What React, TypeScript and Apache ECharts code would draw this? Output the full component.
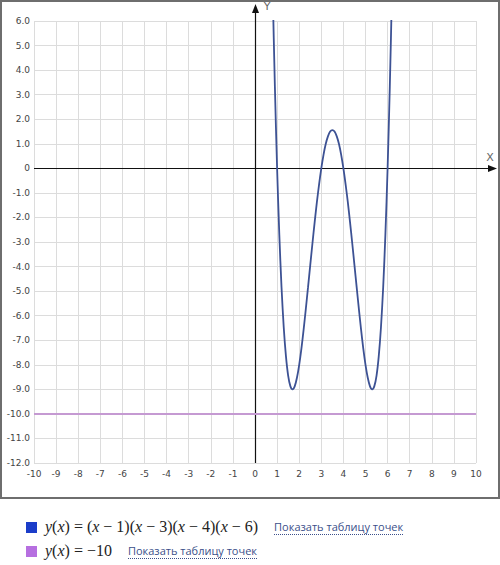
import React, { useEffect, useRef } from "react";
import * as echarts from "echarts";

const xTicksMin = -10;
const xTicksMax = 10;
const yTicksMin = -12;
const yTicksMax = 6;

// y(x) = (x-1)(x-3)(x-4)(x-6), sampled values
const curveX = [0.7, 0.8, 0.9, 1.0, 1.1, 1.2, 1.3, 1.4, 1.5, 1.6, 1.7, 1.8, 1.9, 2.0, 2.1, 2.2, 2.3, 2.4, 2.5, 2.6, 2.7, 2.8, 2.9, 3.0, 3.1, 3.2, 3.3, 3.4, 3.5, 3.6, 3.7, 3.8, 3.9, 4.0, 4.1, 4.2, 4.3, 4.4, 4.5, 4.6, 4.7, 4.8, 4.9, 5.0, 5.1, 5.2, 5.3, 5.4, 5.5, 5.6, 5.7, 5.8, 5.9, 6.0, 6.1, 6.2, 6.3];
const curveY = [12.07, 7.32, 3.32, 0, -2.70, -4.84, -6.47, -7.65, -8.44, -8.87, -9.0, -8.87, -8.52, -8.0, -7.34, -6.57, -5.72, -4.84, -3.94, -3.05, -2.19, -1.38, -0.65, 0, 0.55, 0.99, 1.30, 1.50, 1.56, 1.50, 1.30, 0.99, 0.55, 0, -0.65, -1.38, -2.19, -3.05, -3.94, -4.84, -5.72, -6.57, -7.34, -8.0, -8.52, -8.87, -9.0, -8.87, -8.44, -7.65, -6.47, -4.84, -2.70, 0, 3.32, 7.32, 12.07];

// y(x) = -10
const lineX = [-10, 10];
const lineY = [-10, -10];

const legendFormulas = ["(x − 1)(x − 3)(x − 4)(x − 6)", "−10"];
const legendColors = ["#1b3dc9", "#b66fe0"];
const linkText = "Показать таблицу точек";

export default function App() {
  const ref = useRef<HTMLDivElement>(null);
  useEffect(() => {
    document.body.style.margin = "0";
    const chart = echarts.init(ref.current!, null, { renderer: "svg" });
    const curveData = curveX.map((x, i) => [x, curveY[i]]);
    const lineData = lineX.map((x, i) => [x, lineY[i]]);
    chart.setOption({
      animation: false,
      backgroundColor: "#fff",
      grid: { left: 34, right: 24, top: 21, bottom: 102, containLabel: false },
      xAxis: {
        type: "value",
        min: xTicksMin,
        max: xTicksMax,
        interval: 1,
        axisLine: { show: false },
        axisTick: { show: false },
        axisLabel: { color: "#444", fontSize: 9, fontFamily: "DejaVu Sans", margin: 6 },
        splitLine: { show: true, lineStyle: { color: "#dcdcdc", width: 1 } },
      },
      yAxis: {
        type: "value",
        min: yTicksMin,
        max: yTicksMax,
        interval: 1,
        axisLine: { show: false },
        axisTick: { show: false },
        axisLabel: {
          color: "#444",
          fontSize: 9,
          fontFamily: "DejaVu Sans",
          margin: 4,
          formatter: (v: number) => (v === 0 ? "0" : v.toFixed(1)),
        },
        splitLine: { show: true, lineStyle: { color: "#dcdcdc", width: 1 } },
      },
      series: [
        {
          type: "line",
          data: lineData,
          showSymbol: false,
          lineStyle: { color: "#c59ad2", width: 2 },
          z: 3,
        },
        {
          type: "line",
          data: curveData,
          showSymbol: false,
          smooth: 0.3,
          clip: true,
          lineStyle: { color: "#3d5294", width: 1.8 },
          z: 4,
        },
      ],
    });

    const o = chart.convertToPixel({ gridIndex: 0 }, [0, 0]) as number[];
    const xl = chart.convertToPixel({ gridIndex: 0 }, [xTicksMin, yTicksMin]) as number[];
    const ox = Math.round(o[0]) + 0.5;
    const oy = Math.round(o[1]) + 0.5;
    const axisColor = "#111";

    chart.setOption({
      graphic: [
        {
          type: "rect",
          shape: { x: 1, y: 1, width: 498, height: 497 },
          style: { fill: "none", stroke: "#6e6e6e", lineWidth: 2 },
          z: 1,
        },
        {
          type: "line",
          shape: { x1: xl[0], y1: oy, x2: 491, y2: oy },
          style: { stroke: axisColor, lineWidth: 1.2 },
          z: 2,
        },
        {
          type: "polygon",
          shape: { points: [[497, oy], [488, oy - 3.5], [488, oy + 3.5]] },
          style: { fill: axisColor },
          z: 2,
        },
        {
          type: "line",
          shape: { x1: ox, y1: xl[1], x2: ox, y2: 10 },
          style: { stroke: axisColor, lineWidth: 1.2 },
          z: 2,
        },
        {
          type: "polygon",
          shape: { points: [[ox, 4], [ox - 3.5, 13], [ox + 3.5, 13]] },
          style: { fill: axisColor },
          z: 2,
        },
        {
          type: "text",
          x: 490,
          y: 157,
          style: { text: "X", fill: "#666", font: "11px 'DejaVu Sans'", align: "center", verticalAlign: "middle" },
        },
        {
          type: "text",
          x: 267,
          y: 6,
          style: { text: "Y", fill: "#666", font: "11px 'DejaVu Sans'", align: "center", verticalAlign: "middle" },
        },
      ],
    });
    return () => chart.dispose();
  }, []);

  return (
    <div style={{ width: 500, height: 565, position: "relative", background: "#fff" }}>
      <div ref={ref} style={{ width: 500, height: 565 }} />
      <div style={{ position: "absolute", left: 0, top: 0, width: 500, height: 565, pointerEvents: "none" }}>
        {legendFormulas.map((f, i) => (
          <div
            key={i}
            style={{
              position: "absolute",
              left: 26,
              top: 518 + i * 24,
              height: 18,
              display: "flex",
              alignItems: "center",
              whiteSpace: "nowrap",
            }}
          >
            <span style={{ display: "inline-block", width: 11, height: 11, background: legendColors[i], marginRight: 8 }} />
            <span style={{ fontFamily: "'Liberation Serif', serif", fontSize: 16, color: "#222" }}>
              <i>y</i>(<i>x</i>) = {f.split(/(x)/).map((p, k) => (p === "x" ? <i key={k}>x</i> : <span key={k}>{p}</span>))}
            </span>
            <span
              style={{
                fontFamily: "'Open Sans', sans-serif",
                fontSize: 11,
                color: "#3b4f8a",
                marginLeft: 16,
                borderBottom: "1px dotted #3b4f8a",
                lineHeight: "14px",
              }}
            >
              {linkText}
            </span>
          </div>
        ))}
      </div>
    </div>
  );
}
